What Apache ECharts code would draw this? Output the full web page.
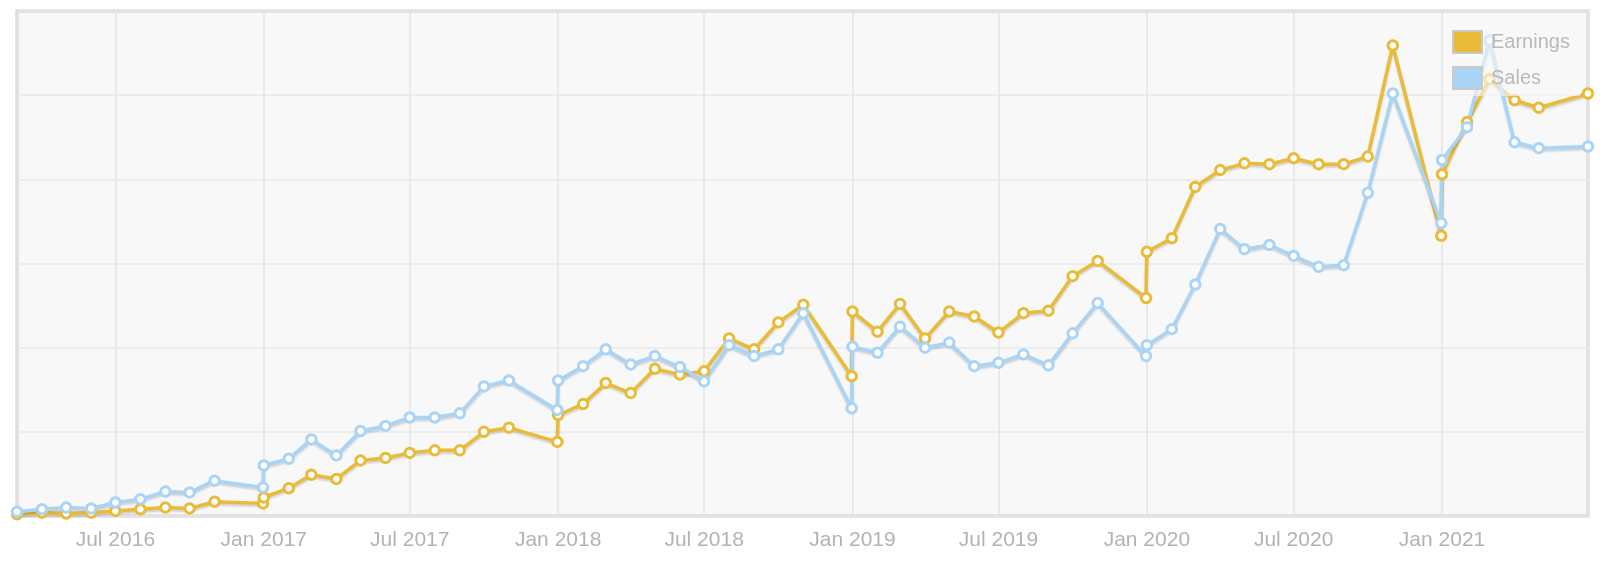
<!DOCTYPE html>
<html>
<head>
<meta charset="utf-8">
<script src="https://cdn.jsdelivr.net/npm/echarts@6/dist/echarts.min.js"></script>
<style>
  html, body { margin: 0; padding: 0; background: #fff; }
  #chart { width: 1600px; height: 576px; }
</style>
</head>
<body>
<div id="chart"></div>
<script>
// monthly points; the year-end value sits on Dec 31, the new year on Jan 1
var dates = [
  '2016-03-01', '2016-04-01', '2016-05-01', '2016-06-01', '2016-07-01', '2016-08-01', '2016-09-01', '2016-10-01', '2016-11-01', '2016-12-31',
  '2017-01-01', '2017-02-01', '2017-03-01', '2017-04-01', '2017-05-01', '2017-06-01', '2017-07-01', '2017-08-01', '2017-09-01', '2017-10-01', '2017-11-01', '2017-12-31',
  '2018-01-01', '2018-02-01', '2018-03-01', '2018-04-01', '2018-05-01', '2018-06-01', '2018-07-01', '2018-08-01', '2018-09-01', '2018-10-01', '2018-11-01', '2018-12-31',
  '2019-01-01', '2019-02-01', '2019-03-01', '2019-04-01', '2019-05-01', '2019-06-01', '2019-07-01', '2019-08-01', '2019-09-01', '2019-10-01', '2019-11-01', '2019-12-31',
  '2020-01-01', '2020-02-01', '2020-03-01', '2020-04-01', '2020-05-01', '2020-06-01', '2020-07-01', '2020-08-01', '2020-09-01', '2020-10-01', '2020-11-01', '2020-12-31',
  '2021-01-01', '2021-02-01', '2021-03-01', '2021-04-01', '2021-05-01', '2021-07-01'
]

var earnings = [
  0.2, 0.4, 0.3, 0.4, 0.6, 0.8, 1.0, 0.9, 1.7, 1.5,
  2.2, 3.3, 4.9, 4.4, 6.6, 6.9, 7.5, 7.8, 7.8, 10.0, 10.5, 8.8,
  12.0, 13.3, 15.8, 14.6, 17.5, 16.8, 17.2, 21.1, 19.8, 23.0, 25.1, 16.6,
  24.3, 21.9, 25.2, 21.1, 24.3, 23.7, 21.8, 24.1, 24.4, 28.5, 30.3, 25.9,
  31.4, 33.0, 39.1, 41.1, 41.9, 41.8, 42.5, 41.8, 41.8, 42.7, 55.9, 33.3,
  40.6, 46.8, 51.9, 49.4, 48.5, 50.2
]

var sales = [
  0.5, 0.8, 1.0, 0.9, 1.6, 2.0, 2.9, 2.8, 4.2, 3.4,
  6.0, 6.8, 9.1, 7.2, 10.1, 10.7, 11.7, 11.7, 12.2, 15.4, 16.1, 12.6,
  16.1, 17.8, 19.8, 18.0, 19.0, 17.7, 16.0, 20.3, 19.0, 19.8, 24.1, 12.8,
  20.1, 19.4, 22.5, 20.0, 20.6, 17.8, 18.2, 19.2, 17.9, 21.7, 25.3, 19.0,
  20.3, 22.2, 27.5, 34.1, 31.7, 32.2, 30.9, 29.6, 29.8, 38.4, 50.2, 34.8,
  42.3, 46.2, 56.5, 44.4, 43.7, 43.9
]

var seriesNames = ['Earnings', 'Sales']
var colors = ['#eabb38', '#aad4f6']
var monthNames = ['Jan', 'Feb', 'Mar', 'Apr', 'May', 'Jun', 'Jul', 'Aug', 'Sep', 'Oct', 'Nov', 'Dec']

var minTime = +echarts.time.parse(dates[0])
var maxTime = +echarts.time.parse(dates[dates.length - 1])

function pairs(values) {
  return values.map(function(v, i) {
    return [dates[i], v]
  })
}

function lineSeries(name, values, color) {
  return {
    name: name,
    type: 'line',
    data: pairs(values),
    symbol: 'circle',
    symbolSize: 9.5,
    showAllSymbol: true,
    lineStyle: {
      color: color,
      width: 3.5,
      shadowColor: 'rgba(0,0,0,0.16)',
      shadowBlur: 2,
      shadowOffsetY: 2
    },
    itemStyle: {
      color: '#fff',
      borderColor: color,
      borderWidth: 3
    }
  }
}

var chart = echarts.init(document.getElementById('chart'))
chart.setOption({
  animation: false,
  textStyle: {
    fontFamily: 'Liberation Sans, Arial, sans-serif'
  },
  grid: {
    left: 17,
    right: 12,
    top: 11,
    bottom: 60,
    containLabel: false,
    outerBoundsMode: 'none',
    show: true,
    backgroundColor: '#f8f8f8',
    borderColor: '#cdcdcd',
    borderWidth: 3
  },
  legend: {
    orient: 'vertical',
    left: 1446,
    top: 24,
    padding: [6, 10, 6, 6],
    backgroundColor: 'rgba(248,248,248,0.6)',
    itemWidth: 29,
    itemHeight: 22,
    itemGap: 12,
    icon: 'rect',
    textStyle: {
      fontSize: 20,
      color: '#b9b9b9',
      padding: [0, 0, 0, 4]
    },
    data: seriesNames.map(function(n, i) {
      return {
        name: n,
        itemStyle: { color: colors[i], borderColor: '#c9c9c9', borderWidth: 2 }
      }
    })
  },
  xAxis: {
    type: 'time',
    min: dates[0],
    max: dates[dates.length - 1],
    splitNumber: 10,
    axisLine: { show: false },
    axisTick: { show: false },
    axisLabel: {
      fontSize: 21,
      color: '#b3b3b3',
      margin: 14,
      formatter: function(value) {
        if (value <= minTime || value >= maxTime) {
          return ''
        }
        var d = new Date(value)
        return monthNames[d.getMonth()] + ' ' + d.getFullYear()
      }
    },
    splitLine: {
      show: true,
      lineStyle: { color: '#e4e4e4', width: 1.5 }
    }
  },
  yAxis: {
    type: 'value',
    min: 0,
    max: 60,
    interval: 10,
    axisLine: { show: false },
    axisTick: { show: false },
    axisLabel: { show: false },
    splitLine: {
      lineStyle: { color: '#e9e9e9', width: 1.5 }
    }
  },
  series: [
    lineSeries(seriesNames[0], earnings, colors[0]),
    lineSeries(seriesNames[1], sales, colors[1])
  ]
})
</script>
</body>
</html>
